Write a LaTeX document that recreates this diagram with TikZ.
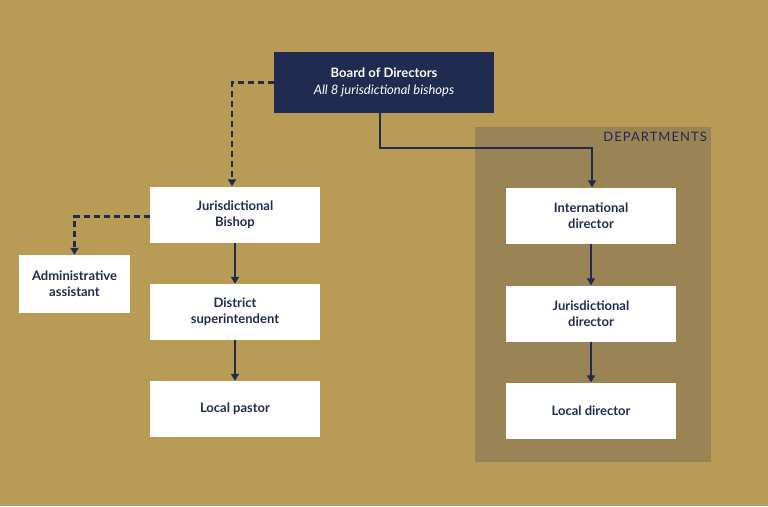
\documentclass[tikz,border=0pt]{standalone}
\usepackage{fontspec}
\setmainfont{Lato}
\usetikzlibrary{arrows.meta}
\definecolor{bg}{HTML}{B89C56}
\definecolor{dept}{HTML}{9A8456}
\definecolor{navy}{HTML}{1F2C4F}
\begin{document}
\begin{tikzpicture}[x=1pt,y=-1pt,
  box/.style={draw=none,fill=white,minimum width=170pt,minimum height=56pt,align=center,text=navy,font=\fontsize{13}{16}\selectfont\bfseries},
  conn/.style={draw=navy,line width=2.2pt,-{Triangle[length=7pt,width=8pt]}},
  dconn/.style={conn,dash pattern=on 6pt off 4pt}]
\fill[bg] (0,0) rectangle (768,506);
\useasboundingbox (0,0) rectangle (768,506);
\fill[dept] (475,127) rectangle (711,462);
\node[anchor=north east,text=navy,font=\fontsize{13}{15}\selectfont,inner sep=0pt] (dl) at (707,132) {\addfontfeatures{LetterSpace=8}DEPARTMENTS};
\node[fill=navy,minimum width=220pt,minimum height=61pt,align=center,text=white,font=\fontsize{13}{17}\selectfont,inner sep=0pt] (board) at (384,82.5) {\textbf{Board of Directors}\\\textit{All 8 jurisdictional bishops}};
\node[box] (jb) at (235,214.5) {Jurisdictional\\Bishop};
\node[box] (ds) at (235,312) {District\\superintendent};
\node[box] (lp) at (235,409) {Local pastor};
\node[box,minimum width=111pt,minimum height=58pt] (aa) at (74.5,284) {Administrative\\assistant};
\node[box] (id) at (591,215.5) {International\\director};
\node[box] (jd) at (591,313.5) {Jurisdictional\\director};
\node[box] (ld) at (591,410.5) {Local director};
\draw[dconn] (board.west) -| ([xshift=-3pt]jb.north);
\draw[conn] ([xshift=-4pt]board.south) |- (592,148) -- ([xshift=1pt]id.north);
\draw[dconn] ([yshift=-2pt]jb.west) -| (aa.north);
\draw[conn] (jb) -- (ds);
\draw[conn] (ds) -- (lp);
\draw[conn] (id) -- (jd);
\draw[conn] (jd) -- (ld);
\end{tikzpicture}
\end{document}
